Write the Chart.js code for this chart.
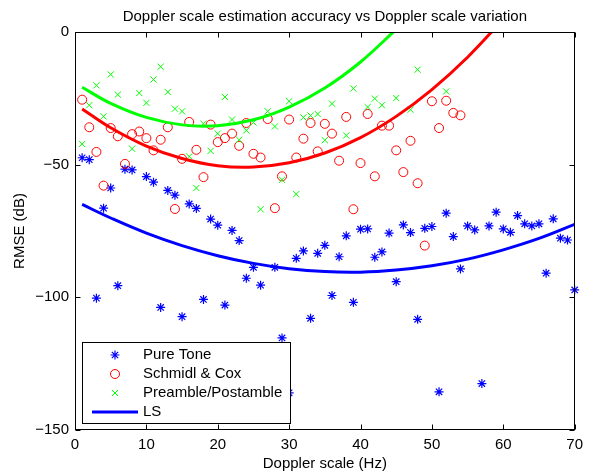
<!DOCTYPE html>
<html>
<head>
<meta charset="utf-8">
<script src="https://cdn.jsdelivr.net/npm/chart.js@4.4.0/dist/chart.umd.min.js"></script>
<style>
    html, body { margin: 0; padding: 0; background: #fff; }
    #wrap { width: 589px; height: 474px; }
</style>
</head>
<body>
<div id="wrap"><canvas id="myChart" width="589" height="474"></canvas></div>
<script>
// Doppler scale (Hz) and RMSE (dB) per estimator
var toneX = [1, 2, 3, 4, 5, 6, 7, 8, 10, 11, 12, 13, 14, 15, 16, 17, 18, 19, 20, 21, 22, 23, 24, 25, 26, 28, 29, 30,
    31, 32, 33, 34, 35, 36, 37, 38, 39, 40, 41, 42, 43, 44, 45, 46, 47, 48, 49, 50, 51, 52, 53, 54, 55, 56, 57, 58,
    59, 60, 61, 62, 63, 64, 65, 66, 67, 68, 69, 70];
var toneY = [-47.4, -48.1, -100.3, -66.4, -58.8, -95.6, -51.7, -52.0, -54.5, -56.6, -103.8, -59.7, -61.5, -107.3,
    -64.8, -66.5, -100.8, -70.5, -72.8, -102.9, -74.8, -78.6, -92.8, -88.7, -95.4, -88.7, -115.3, -136.0,
    -85.3, -82.5, -107.9, -83.4, -80.4, -99.3, -84.7, -76.8, -101.9, -74.3, -74.2, -84.9, -82.9, -75.8, -94.1,
    -72.7, -75.6, -108.3, -74.0, -73.3, -135.6, -68.3, -77.1, -89.3, -73.1, -74.6, -132.5, -73.1,
    -67.9, -74.2, -75.5, -69.2, -72.3, -73.1, -72.3, -90.9, -70.4, -77.7, -78.4, -97.2];

var scX = [1, 2, 3, 4, 5, 6, 7, 8, 9, 10, 11, 12, 13, 14, 15, 16, 17, 18, 19, 20, 21, 22, 23, 24, 25, 26, 27,
    28, 29, 30, 31, 32, 33, 34, 35, 36, 37, 38, 39, 40, 41, 42, 43, 44, 45, 46, 47, 48, 49, 50, 51, 52, 53, 54];
var scY = [-25.5, -35.9, -45.2, -57.9, -36.2, -39.3, -49.7, -38.5, -37.5, -40.0, -44.6, -40.6, -35.9, -66.7,
    -47.8, -33.9, -44.4, -54.7, -34.9, -41.5, -40.0, -38.3, -42.9, -34.3, -45.9, -47.3, -32.8,
    -66.4, -54.4, -33.0, -47.3, -40.2, -34.3, -45.0, -34.6, -38.3, -48.5, -32.0, -66.8, -49.4, -30.9,
    -54.4, -35.3, -35.3, -44.6, -52.8, -41.0, -57.0, -80.5, -26.1, -36.2, -25.9, -30.5, -31.4];

var preX = [1, 2, 3, 4, 5, 6, 8, 9, 10, 11, 12, 13, 14, 15, 16, 17, 18, 19, 20, 21, 22, 23, 24, 25, 26, 27, 28,
    29, 30, 31, 32, 33, 34, 35, 36, 38, 39, 41, 42, 43, 45, 47, 48, 52];
var preY = [-42.2, -27.6, -20.1, -31.8, -16.0, -23.6, -44.0, -23.0, -26.7, -17.9, -13.1, -22.6, -28.9, -29.9,
    -46.9, -58.8, -34.6, -44.8, -38.3, -24.5, -33.0, -40.6, -37.1, -34.1, -66.8, -29.9, -35.6,
    -55.7, -26.1, -61.1, -32.2, -31.5, -30.9, -40.8, -27.0, -39.0, -21.3, -28.3, -25.1, -27.6, -24.9,
    -29.3, -14.2, -22.4];

// least-squares fit curves
var lsX = [1, 5, 10, 15, 20, 25, 30, 35, 40, 45, 50, 55, 60, 65, 70];
var lsY = [-65.0, -70.1, -75.8, -80.5, -84.3, -87.2, -89.2, -90.3, -90.5, -89.7, -88.1, -85.6, -82.1, -77.8, -72.5];
var scFitX = [1, 5, 10, 15, 20, 25, 30, 35, 40, 45, 50, 55, 60];
var scFitY = [-29.0, -36.1, -43.0, -47.7, -50.4, -50.9, -49.3, -45.6, -39.8, -31.8, -21.7, -9.5, 4.8];
var preFitX = [1, 5, 10, 15, 20, 25, 30, 35, 40, 45];
var preFitY = [-20.8, -26.9, -32.2, -35.0, -35.3, -33.1, -28.3, -21.1, -11.3, 1.0];

var xTicks = [0, 10, 20, 30, 40, 50, 60, 70];
var yTicks = [-150, -100, -50, 0];

var FONT = '"Liberation Sans", Arial, Helvetica, sans-serif';

function pts(xs, ys) {
    return xs.map(function (x, i) { return { x: x, y: ys[i] }; });
}

function minus(v) {
    return v < 0 ? '\u2212' + Math.abs(v) : String(v);
}

// box, inward ticks, titles and legend, MATLAB style
var decor = {
    id: 'decor',
    afterDatasetsDraw: function (chart) {
        var ctx = chart.ctx, a = chart.chartArea;
        var xs = chart.scales.x, ys = chart.scales.y;
        var L = Math.round(a.left) + 0.5, R = Math.round(a.right) - 0.5;
        var T = Math.round(a.top) + 0.5, B = Math.round(a.bottom) - 0.5;
        ctx.save();
        ctx.strokeStyle = '#000';
        ctx.lineWidth = 1;
        ctx.beginPath();
        xTicks.forEach(function (t) {
            var px = Math.round(xs.getPixelForValue(t)) + 0.5;
            ctx.moveTo(px, B); ctx.lineTo(px, B - 5);
            ctx.moveTo(px, T); ctx.lineTo(px, T + 5);
        });
        yTicks.forEach(function (t) {
            var py = Math.round(ys.getPixelForValue(t)) + 0.5;
            ctx.moveTo(L, py); ctx.lineTo(L + 5, py);
            ctx.moveTo(R, py); ctx.lineTo(R - 5, py);
        });
        ctx.stroke();
        ctx.strokeRect(L, T, R - L, B - T);

        // titles
        ctx.fillStyle = '#000';
        ctx.font = '15px ' + FONT;
        ctx.textAlign = 'center';
        ctx.textBaseline = 'middle';
        ctx.fillText('Doppler scale estimation accuracy vs Doppler scale variation', (a.left + a.right) / 2, 17);
        ctx.fillText('Doppler scale (Hz)', (a.left + a.right) / 2, 464);
        ctx.save();
        ctx.translate(20, (a.top + a.bottom) / 2);
        ctx.rotate(-Math.PI / 2);
        ctx.fillText('RMSE (dB)', 0, 0);
        ctx.restore();

        // legend: markers first, then the fitted line
        var bx = 82.5, by = 342.5, bw = 208, bh = 81;
        ctx.fillStyle = '#fff';
        ctx.fillRect(bx, by, bw, bh);
        ctx.strokeRect(bx, by, bw, bh);
        var ds = chart.data.datasets;
        var rows = ds.filter(function (d) { return d.label && d.type !== 'line'; })
            .concat(ds.filter(function (d) { return d.label && d.type === 'line'; }));
        rows.forEach(function (d, i) {
            var cy = 355 + i * 19, cx = 115;
            var r = d.pointRadius;
            ctx.strokeStyle = d.borderColor;
            ctx.lineWidth = d.type === 'line' ? d.borderWidth : d.borderWidth;
            ctx.beginPath();
            if (d.type === 'line') {
                ctx.moveTo(92, cy); ctx.lineTo(138, cy);
            } else if (d.pointStyle === 'circle') {
                ctx.arc(cx, cy, r, 0, Math.PI * 2);
            } else {
                var q = r * 0.707;
                ctx.moveTo(cx - q, cy - q); ctx.lineTo(cx + q, cy + q);
                ctx.moveTo(cx - q, cy + q); ctx.lineTo(cx + q, cy - q);
                if (d.pointStyle === 'star') {
                    ctx.moveTo(cx, cy - r); ctx.lineTo(cx, cy + r);
                    ctx.moveTo(cx - r, cy); ctx.lineTo(cx + r, cy);
                }
            }
            ctx.stroke();
            ctx.fillStyle = '#000';
            ctx.textAlign = 'left';
            ctx.fillText(d.label, 143, cy);
        });
        ctx.restore();
    }
};

var ctx = document.getElementById('myChart');
var myChart = new Chart(ctx, {
    type: 'scatter',
    data: {
        datasets: [
            {
                label: 'LS',
                type: 'line',
                data: pts(lsX, lsY),
                borderColor: '#0000ff',
                borderWidth: 3,
                pointRadius: 0,
                tension: 0.4,
                fill: false,
                clip: 0,
                order: 0
            },
            {
                type: 'line',
                data: pts(scFitX, scFitY),
                borderColor: '#ff0000',
                borderWidth: 3,
                pointRadius: 0,
                tension: 0.4,
                fill: false,
                clip: 0,
                order: 0
            },
            {
                type: 'line',
                data: pts(preFitX, preFitY),
                borderColor: '#00ff00',
                borderWidth: 3,
                pointRadius: 0,
                tension: 0.4,
                fill: false,
                clip: 0,
                order: 0
            },
            {
                label: 'Pure Tone',
                data: pts(toneX, toneY),
                pointStyle: 'star',
                pointRadius: 4.5,
                borderColor: '#0000ff',
                backgroundColor: '#0000ff',
                borderWidth: 1.2,
                clip: false,
                order: 3
            },
            {
                label: 'Schmidl & Cox',
                data: pts(scX, scY),
                pointStyle: 'circle',
                pointRadius: 4.5,
                borderColor: '#ff0000',
                backgroundColor: 'rgba(0,0,0,0)',
                borderWidth: 1,
                clip: false,
                order: 2
            },
            {
                label: 'Preamble/Postamble',
                data: pts(preX, preY),
                pointStyle: 'crossRot',
                pointRadius: 4.4,
                borderColor: '#00ff00',
                backgroundColor: '#00ff00',
                borderWidth: 1,
                clip: false,
                order: 1
            }
        ]
    },
    options: {
        responsive: false,
        animation: false,
        events: [],
        layout: { padding: { top: 32, right: 9, bottom: 0, left: 0 } },
        plugins: {
            legend: { display: false },
            title: { display: false },
            tooltip: { enabled: false }
        },
        scales: {
            x: {
                type: 'linear',
                min: 0,
                max: 70,
                afterFit: function (s) { s.height = 44; },
                afterBuildTicks: function (s) { s.ticks = xTicks.map(function (v) { return { value: v }; }); },
                grid: { display: false, drawTicks: false },
                border: { display: false },
                ticks: { color: '#000', padding: 6, font: { size: 15, family: FONT }, maxRotation: 0 }
            },
            y: {
                type: 'linear',
                min: -150,
                max: 0,
                afterFit: function (s) { s.width = 75; },
                afterBuildTicks: function (s) { s.ticks = yTicks.map(function (v) { return { value: v }; }); },
                grid: { display: false, drawTicks: false },
                border: { display: false },
                ticks: { color: '#000', padding: 6, font: { size: 15, family: FONT }, callback: minus }
            }
        }
    },
    plugins: [decor]
});
</script>
</body>
</html>
